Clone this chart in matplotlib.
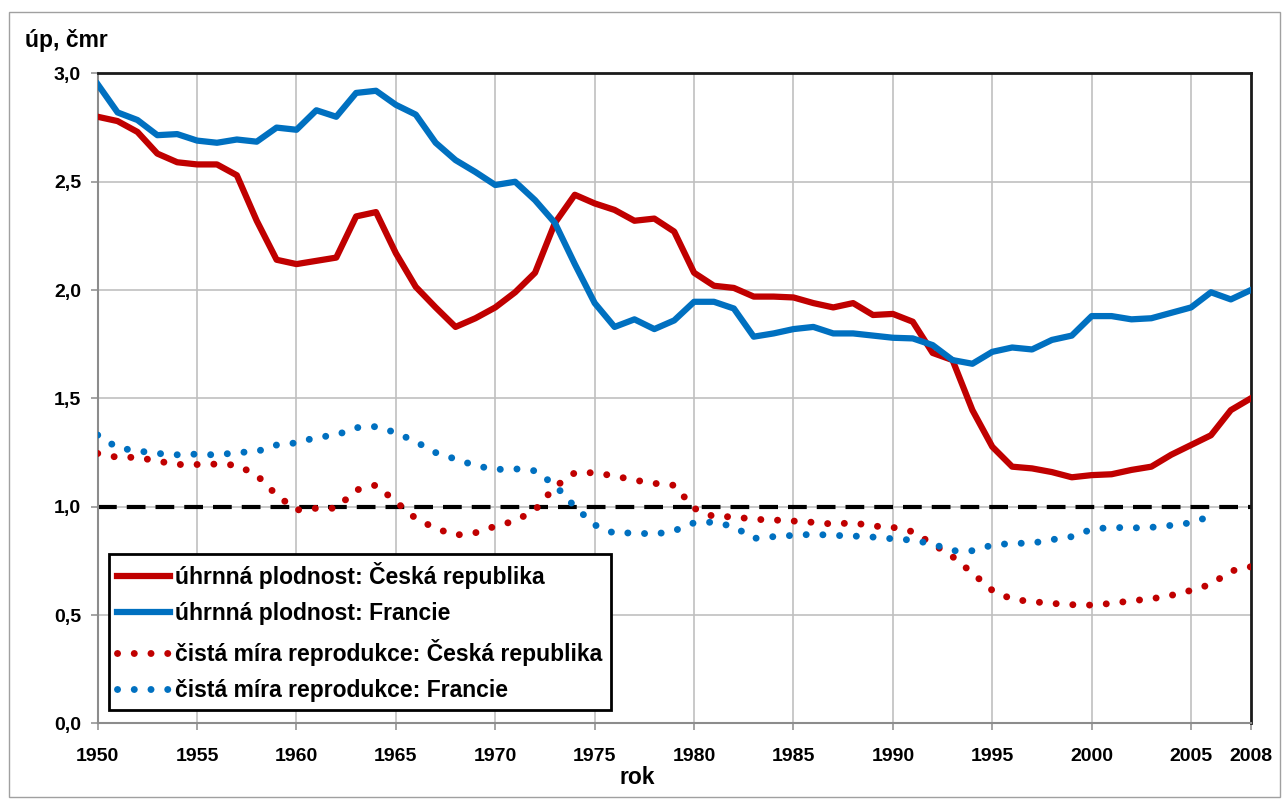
#!/usr/bin/env python3
"""Total fertility and net reproduction rate, Czech Republic vs France, 1950-2008."""

import matplotlib

matplotlib.use("Agg")
import matplotlib.pyplot as plt
from matplotlib.patches import Rectangle

years = list(range(1950, 2009))

# úhrnná plodnost (total fertility rate)
tfr_cz = [
    2.80, 2.78, 2.73, 2.63, 2.59, 2.58, 2.58, 2.53, 2.32, 2.14,
    2.12, 2.135, 2.15, 2.34, 2.36, 2.17, 2.015, 1.92, 1.83, 1.87,
    1.92, 1.99, 2.08, 2.31, 2.44, 2.40, 2.37, 2.32, 2.33, 2.27,
    2.08, 2.02, 2.01, 1.97, 1.97, 1.966, 1.94, 1.92, 1.94, 1.885,
    1.89, 1.854, 1.71, 1.677, 1.446, 1.277, 1.185, 1.177, 1.16, 1.136,
    1.146, 1.15, 1.17, 1.185, 1.24, 1.285, 1.33, 1.446, 1.50,
]
tfr_fr = [
    2.95, 2.82, 2.785, 2.715, 2.72, 2.69, 2.68, 2.695, 2.685, 2.75,
    2.74, 2.83, 2.80, 2.91, 2.92, 2.855, 2.81, 2.68, 2.60, 2.545,
    2.485, 2.50, 2.415, 2.31, 2.12, 1.94, 1.83, 1.865, 1.82, 1.86,
    1.946, 1.946, 1.915, 1.785, 1.80, 1.82, 1.83, 1.80, 1.80, 1.79,
    1.78, 1.777, 1.746, 1.677, 1.66, 1.715, 1.735, 1.726, 1.77, 1.79,
    1.88, 1.88, 1.865, 1.87, 1.895, 1.92, 1.99, 1.957, 2.00,
]

# čistá míra reprodukce (net reproduction rate)
nrr_cz = [
    1.246, 1.228, 1.228, 1.211, 1.195, 1.195, 1.197, 1.192, 1.146, 1.054,
    0.985, 0.993, 0.993, 1.077, 1.10, 1.023, 0.946, 0.90, 0.869, 0.88,
    0.91, 0.935, 0.985, 1.092, 1.157, 1.157, 1.142, 1.123, 1.108, 1.099,
    0.993, 0.954, 0.954, 0.942, 0.939, 0.934, 0.928, 0.92, 0.926, 0.911,
    0.905, 0.885, 0.828, 0.77, 0.694, 0.614, 0.573, 0.562, 0.554, 0.548,
    0.546, 0.554, 0.566, 0.575, 0.591, 0.614, 0.642, 0.703, 0.723,
]
nrr_fr_years = list(range(1950, 2007))
nrr_fr = [
    1.331, 1.272, 1.258, 1.246, 1.24, 1.243, 1.239, 1.25, 1.255, 1.285,
    1.295, 1.32, 1.331, 1.365, 1.37, 1.342, 1.30, 1.25, 1.22, 1.19,
    1.172, 1.175, 1.166, 1.10, 1.0, 0.916, 0.877, 0.88, 0.873, 0.889,
    0.926, 0.929, 0.908, 0.854, 0.862, 0.868, 0.873, 0.868, 0.865, 0.86,
    0.852, 0.846, 0.828, 0.797, 0.797, 0.823, 0.831, 0.832, 0.848, 0.862,
    0.896, 0.905, 0.902, 0.905, 0.914, 0.926, 0.957,
]

xticks = [1950, 1955, 1960, 1965, 1970, 1975, 1980, 1985, 1990, 1995, 2000, 2005, 2008]
yticks = [0.0, 0.5, 1.0, 1.5, 2.0, 2.5, 3.0]

RED = "#C00000"
BLUE = "#0070C0"

plt.rcParams["font.family"] = ["Liberation Sans", "DejaVu Sans"]
plt.rcParams["font.weight"] = "bold"

fig = plt.figure(figsize=(12.82, 7.99), dpi=100)
fig.patches.append(Rectangle((0.007, 0.0025), 0.9914, 0.9825, transform=fig.transFigure,
                             fill=False, edgecolor="#a0a0a0", linewidth=1.0))

ax = fig.add_axes([0.0762, 0.0946, 0.8994, 0.8135])

# reference level
ax.axhline(1.0, color="black", linewidth=3.0, linestyle=(0, (4.5, 2.4)), zorder=2)

dot = (0, (0.01, 2.4))
ax.plot(years, tfr_cz, color=RED, linewidth=4.5, solid_joinstyle="round",
        label="úhrnná plodnost: Česká republika", zorder=3)
ax.plot(years, tfr_fr, color=BLUE, linewidth=4.5, solid_joinstyle="round",
        label="úhrnná plodnost: Francie", zorder=3)
ax.plot(years, nrr_cz, color=RED, linewidth=5.0, linestyle=dot, dash_capstyle="round",
        label="čistá míra reprodukce: Česká republika", zorder=3)
ax.plot(nrr_fr_years, nrr_fr, color=BLUE, linewidth=5.0, linestyle=dot, dash_capstyle="round",
        label="čistá míra reprodukce: Francie", zorder=3)

ax.set_xlim(1950, 2008)
ax.set_ylim(0, 3)
ax.set_xticks(xticks)
ax.set_yticks(yticks)
ax.set_yticklabels([f"{v:.1f}".replace(".", ",") for v in yticks])

for x in xticks[1:-1]:
    ax.axvline(x, color="#c0c0c0", linewidth=1.2, zorder=1)
for y in yticks[1:-1]:
    ax.axhline(y, color="#c0c0c0", linewidth=1.2, zorder=1)

ax.tick_params(axis="both", direction="out", length=5, width=1.1, color="#8c8c8c",
               labelsize=14)
ax.tick_params(axis="y", pad=7)
ax.tick_params(axis="x", pad=13)

ax.spines["left"].set_color("#8c8c8c")
ax.spines["bottom"].set_color("#8c8c8c")
ax.spines["left"].set_linewidth(1.5)
ax.spines["bottom"].set_linewidth(1.5)
for s in ("top", "right"):
    ax.spines[s].set_color("#1a1a1a")
    ax.spines[s].set_linewidth(2.0)

leg = ax.legend(loc="lower left", bbox_to_anchor=(0.0098, 0.0206), borderaxespad=0,
                fontsize=16.5, frameon=True, fancybox=False, framealpha=1,
                edgecolor="black", handlelength=2.3, handletextpad=0.25,
                labelspacing=0.58, borderpad=0.35)
leg.get_frame().set_linewidth(2.0)

fig.text(25 / 1282, 1 - 41 / 799, "úp, čmr", ha="left", va="center", fontsize=16.5,
         fontweight="bold")
fig.text(637 / 1282, 1 - 778 / 799, "rok", ha="center", va="center", fontsize=16.5,
         fontweight="bold")

fig.savefig("out.png", dpi=100)
